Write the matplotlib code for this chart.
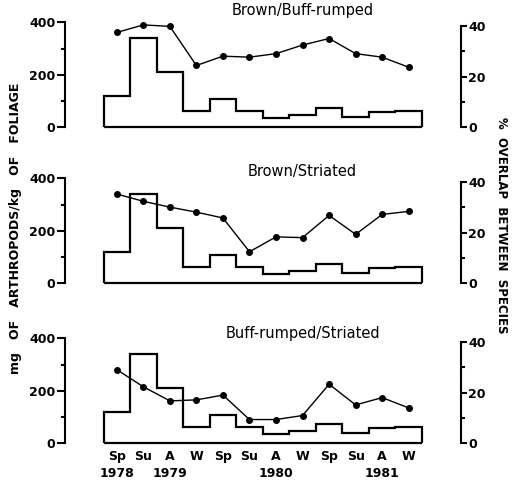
import matplotlib
matplotlib.use("Agg")
import matplotlib.pyplot as plt
import numpy as np

seasons = ["Sp", "Su", "A", "W", "Sp", "Su", "A", "W", "Sp", "Su", "A", "W"]
years = ["1978", "", "1979", "", "", "", "1980", "", "", "", "1981", ""]

# mg arthropods / kg foliage, per season
arthropods = [120, 340, 210, 60, 107, 60, 36, 47, 73, 37, 57, 62]

# % overlap between species
pairs = ["Brown/Buff-rumped", "Brown/Striated", "Buff-rumped/Striated"]
brown_buff = [37.5, 40.5, 39.9, 24.4, 28.1, 27.7, 29.1, 32.5, 35.1, 29.1, 27.7, 23.7]
brown_striated = [35.3, 32.4, 30.1, 28.1, 25.8, 12.4, 18.3, 18.0, 26.8, 19.3, 27.2, 28.4]
buff_striated = [29.1, 22.3, 16.7, 17.1, 19.0, 9.3, 9.3, 10.9, 23.3, 15.1, 18.0, 13.9]
overlaps = [brown_buff, brown_striated, buff_striated]

plt.rcParams["font.family"] = ["DejaVu Sans"]

fig = plt.figure(figsize=(5.12, 4.8), dpi=100)

edges = np.arange(len(seasons) + 1)
centers = edges[:-1] + 0.5

# layout: axes bottom (fig frac), title height (data units of left axis)
panel_bottoms = [0.7354, 0.4104, 0.0771]
title_ys = [445, 428, 418]

for i, (name, ov) in enumerate(zip(pairs, overlaps)):
    ax = fig.add_axes([0.127, panel_bottoms[i], 0.7734, 0.218])
    ax.set_xlim(-1.45, 13.47)
    ax.set_ylim(0, 400)
    ax.stairs(arthropods, edges, baseline=0, color="black", lw=1.6,
              clip_on=False)
    ax.hlines(0, edges[0], edges[-1], color="black", lw=1.6, clip_on=False)

    for s in ["top", "right", "bottom"]:
        ax.spines[s].set_visible(False)
    ax.spines["left"].set_linewidth(1.5)
    ax.spines["left"].set_bounds(0, 400)
    ax.set_yticks([0, 200, 400])
    ax.set_yticks([100, 300], minor=True)
    ax.tick_params(axis="y", which="major", direction="out", length=6,
                   width=1.5, pad=1, labelsize=9)
    ax.tick_params(axis="y", which="minor", direction="out", length=3,
                   width=1.5)
    for lab in ax.get_yticklabels():
        lab.set_fontweight("bold")

    if i == 2:
        ax.set_xticks(centers)
        ax.set_xticklabels([s + ("\n" + y if y else "") for s, y in zip(seasons, years)],
                           fontsize=9, fontweight="bold", linespacing=1.4)
        ax.tick_params(axis="x", length=0, pad=5)
    else:
        ax.set_xticks([])

    ax.text(7.5, title_ys[i], name, ha="center", va="center", fontsize=10.5)

    ax2 = ax.twinx()
    ax2.set_ylim(0, 41.5)
    ax2.plot(centers, ov, color="black", lw=1.0, marker="o", markersize=4,
             clip_on=False)
    for s in ["top", "left", "bottom"]:
        ax2.spines[s].set_visible(False)
    ax2.spines["right"].set_linewidth(1.5)
    ax2.spines["right"].set_bounds(0, 40)
    ax2.set_yticks([0, 20, 40])
    ax2.set_yticks([10, 30], minor=True)
    ax2.tick_params(axis="y", which="major", direction="out", length=4,
                    width=1.5, pad=1, labelsize=9)
    ax2.tick_params(axis="y", which="minor", direction="out", length=3,
                    width=1.5)
    for lab in ax2.get_yticklabels():
        lab.set_fontweight("bold")

fig.text(0.03, 0.525, "mg   OF   ARTHROPODS/kg   OF   FOLIAGE", rotation=90,
         ha="center", va="center", fontsize=9, fontweight="bold")
fig.text(0.979, 0.531, "%  OVERLAP  BETWEEN  SPECIES", rotation=-90,
         ha="center", va="center", fontsize=8.5, fontweight="bold")

fig.savefig("out.png", dpi=100)
